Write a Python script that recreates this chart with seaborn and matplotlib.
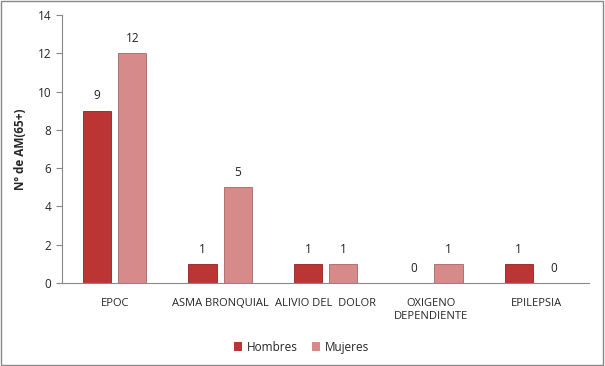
import matplotlib
matplotlib.use("Agg")
import matplotlib.pyplot as plt
import seaborn as sns
import pandas as pd
from matplotlib.patches import Rectangle

categories = ["EPOC", "ASMA BRONQUIAL", "ALIVIO DEL  DOLOR", "OXIGENO\nDEPENDIENTE", "EPILEPSIA"]
hombres = [9, 1, 1, 0, 1]
mujeres = [12, 5, 1, 1, 0]
series = ["Hombres", "Mujeres"]
colors = ["#BC3535", "#D68A8A"]

df = pd.DataFrame({
    "cat": categories * 2,
    "val": hombres + mujeres,
    "sexo": [series[0]] * len(categories) + [series[1]] * len(categories),
})

sns.set_style("white")
plt.rcParams['font.family'] = ['Open Sans', 'DejaVu Sans']

fig = plt.figure(figsize=(6.05, 3.66), dpi=100)
ax = fig.add_axes([0.1025, 0.2268, 0.871, 0.732])
sns.barplot(data=df, x="cat", y="val", hue="sexo", palette=colors, width=0.667, gap=0.2,
            ax=ax, edgecolor="none", saturation=1)

edge = ["#8E2222", "#A86464"]
for cont, ec in zip(ax.containers, edge):
    for p in cont.patches:
        if p.get_height() > 0:
            p.set_edgecolor(ec)
            p.set_linewidth(0.6)
    ax.bar_label(cont, padding=6, fontsize=8.5, color="#222222")

ax.set_ylim(0, 14)
ax.set_yticks(range(0, 15, 2))
ax.set_xlim(-0.5, len(categories) - 0.5)
ax.set_xlabel("")
ax.set_ylabel("Nº de AM(65+)", fontsize=8.5, fontweight="bold", labelpad=8)
ax.tick_params(axis="y", labelsize=8.5, length=4, direction="out", color="#888888", left=True)
ax.tick_params(axis="x", labelsize=8, length=0, pad=11)
for s in ["top", "right"]:
    ax.spines[s].set_visible(False)
for s in ["left", "bottom"]:
    ax.spines[s].set_color("#888888")
    ax.spines[s].set_linewidth(0.8)

leg = ax.legend(loc="upper center", bbox_to_anchor=(0.455, -0.175), ncol=2, frameon=False,
                fontsize=8.5, handlelength=0.7, handleheight=0.7, handletextpad=0.4, columnspacing=1.2)

fig.patches.append(Rectangle((0.002, 0.003), 0.995, 0.993, transform=fig.transFigure,
                             fill=False, edgecolor="#888888", linewidth=1))
fig.savefig("out.png", dpi=100)
